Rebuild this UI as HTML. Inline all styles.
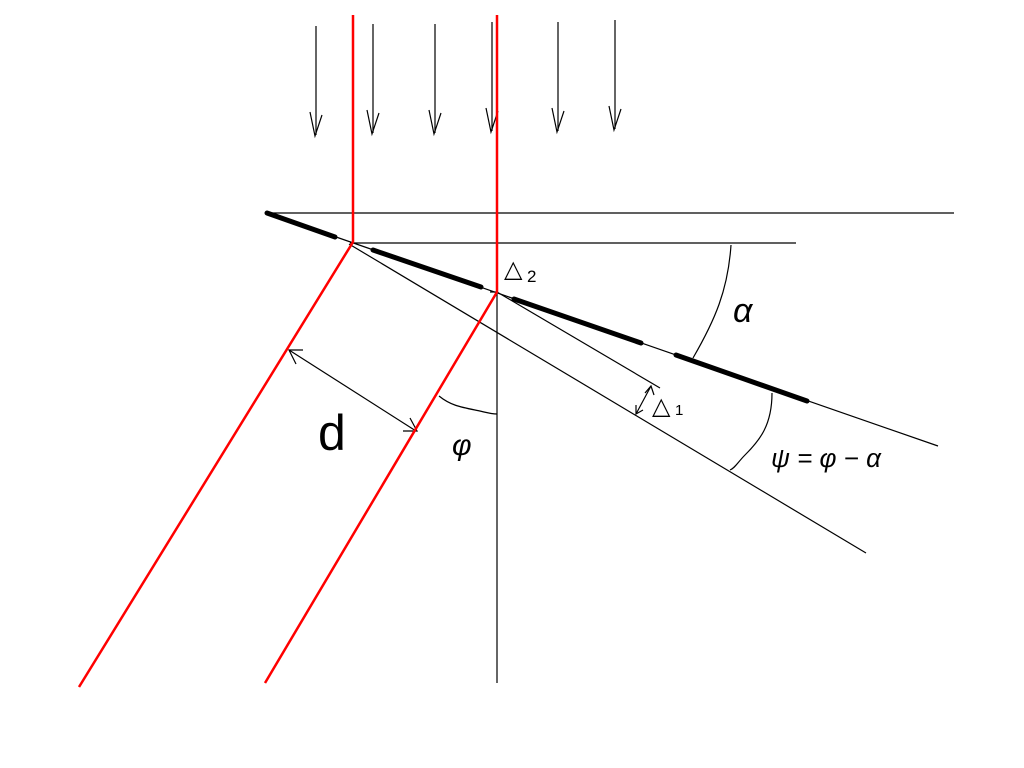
<!DOCTYPE html>
<html><head><meta charset="utf-8"><style>
html,body{margin:0;padding:0;background:#fff;}
svg{display:block;}
text{font-family:"Liberation Sans","DejaVu Sans",sans-serif;fill:#000;}
</style></head><body>
<svg width="1024" height="768" viewBox="0 0 1024 768" xmlns="http://www.w3.org/2000/svg">
<g stroke="#000" stroke-width="1.2" fill="none">
  <!-- horizontals -->
  <line x1="266" y1="213" x2="954" y2="213"/>
  <line x1="350" y1="243" x2="796" y2="243"/>
  <!-- mirror thin line -->
  <line x1="267" y1="213" x2="938" y2="446"/>
  <!-- second thin line -->
  <line x1="349" y1="244" x2="866" y2="553"/>
  <!-- delta1 line -->
  <line x1="497" y1="292" x2="660" y2="388"/>
  <line x1="490" y1="292" x2="497" y2="292"/>
  <!-- vertical -->
  <line x1="497" y1="292" x2="497" y2="683"/>
  <!-- top arrows -->
  <g>
    <line x1="316" y1="26" x2="316" y2="135"/><polyline points="310,112 315,136 322,115"/>
    <line x1="373" y1="24" x2="373" y2="133"/><polyline points="367,110 372,134 379,113"/>
    <line x1="435" y1="24" x2="435" y2="133"/><polyline points="429,110 434,134 441,113"/>
    <line x1="492" y1="22" x2="492" y2="131"/><polyline points="486,108 491,132 498,111"/>
    <line x1="558" y1="22" x2="558" y2="131"/><polyline points="552,108 557,132 564,111"/>
    <line x1="615" y1="20" x2="615" y2="129"/><polyline points="609,106 614,130 621,109"/>
  </g>
  <!-- d arrow -->
  <line x1="289" y1="350" x2="416" y2="431"/>
  <polyline points="303,350 289,350 296,364"/>
  <polyline points="403,431 417,431 410,418"/>
  <!-- delta1 arrow -->
  <line x1="651" y1="386" x2="636" y2="414"/>
  <polyline points="645,393 651,386 654,395"/>
  <polyline points="636,405 636,414 643,410"/>
  <!-- arcs -->
  <path d="M731,245 C728,290 715,320 693,358"/>
  <path d="M772,393 C772,425 760,440 745,455 C738,462 735,468 730,470"/>
  <path d="M439,396 C450,405 460,407 475,410 C485,412 490,414 497,414"/>
</g>
<!-- thick mirror segments -->
<g stroke="#000" stroke-width="5" stroke-linecap="round">
  <line x1="267" y1="213" x2="335" y2="237"/>
  <line x1="373" y1="250" x2="481" y2="287"/>
  <line x1="514" y1="299" x2="641" y2="343"/>
  <line x1="676" y1="355" x2="807" y2="401"/>
</g>
<!-- red rays -->
<g stroke="#f00" stroke-width="2.5" fill="none">
  <polyline points="353,15 353,242 79,687"/>
  <polyline points="497,15 497,292 265,683"/>
</g>
<!-- labels -->
<text x="504" y="277" font-size="24" font-weight="normal">△</text>
<text x="527" y="282" font-size="17">2</text>
<text x="652" y="414" font-size="24">△</text>
<text x="675" y="415" font-size="15">1</text>
<text x="318" y="450" font-size="50">d</text>
<text x="452" y="455" font-size="30" font-style="italic">φ</text>
<text x="733" y="322" font-size="34" font-style="italic">α</text>
<text x="771" y="467" font-size="26" font-style="italic">ψ = φ − α</text>
</svg>
</body></html>
